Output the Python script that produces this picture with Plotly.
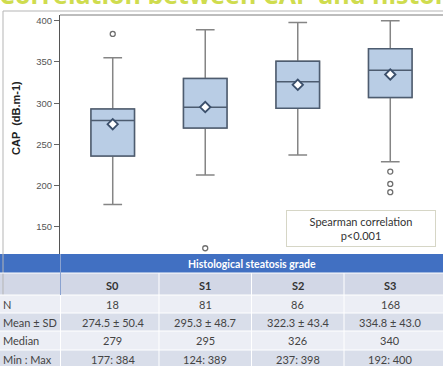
import plotly.graph_objects as go

# ---------------- data ----------------
categories = ["S0", "S1", "S2", "S3"]
q1 = [236, 270, 294, 307]
medians = [279, 295, 326, 340]
q3 = [293, 330, 351, 366]
lower_whisker = [177, 213, 237, 229]
upper_whisker = [355, 389, 398, 400]
means = [274.5, 295.3, 322.3, 334.8]
outlier_x = ["S0", "S1", "S3", "S3", "S3"]
outlier_y = [384, 124, 217, 202, 192]

y_ticks = [150, 200, 250, 300, 350, 400]

row_labels = ["N", "Mean ± SD", "Median", "Min : Max"]
n_values = ["18", "81", "86", "168"]
mean_sd = ["274.5 ± 50.4", "295.3 ± 48.7", "322.3 ± 43.4", "334.8 ± 43.0"]
median_values = ["279", "295", "326", "340"]
min_max = ["177: 384", "124: 389", "237: 398", "192: 400"]
table_rows = [n_values, mean_sd, median_values, min_max]

title_text = "Correlation between CAP and histological steatosis grade"
table_title = "Histological steatosis grade"
note_text = "Spearman correlation<br>p<0.001"

# ---------------- layout helpers ----------------
W, H = 443, 366
def py(px):
    return (H - px) / H
def pxx(px):
    return px / W

FONT = "Lato"
fig = go.Figure()

# whiskers (grey) - full box
fig.add_trace(go.Box(
    x=categories, q1=q1, median=medians, q3=q3,
    lowerfence=lower_whisker, upperfence=upper_whisker,
    fillcolor="#b9cde5", line=dict(color="#858585", width=1.5),
    width=0.47, whiskerwidth=0.43, boxpoints=False, showlegend=False,
    hoverinfo="skip",
))
# box body (dark outline)
fig.add_trace(go.Box(
    x=categories, q1=q1, median=medians, q3=q3,
    lowerfence=q1, upperfence=q3,
    fillcolor="#b9cde5", line=dict(color="#4d5c70", width=1.5),
    width=0.47, whiskerwidth=0.0, boxpoints=False, showlegend=False,
    hoverinfo="skip",
))
# outliers
fig.add_trace(go.Scatter(
    x=outlier_x, y=outlier_y, mode="markers", showlegend=False,
    marker=dict(symbol="circle-open", size=5, color="#6f6f6f", line=dict(width=1.3)),
))
# means
fig.add_trace(go.Scatter(
    x=categories, y=means, mode="markers", showlegend=False,
    marker=dict(symbol="diamond", size=8, color="white",
                line=dict(color="#3b4f6b", width=1.8)),
))

shapes = []
annotations = []

# outer frame lines
shapes.append(dict(type="line", xref="paper", yref="paper", x0=pxx(3), x1=1.0,
                   y0=py(11), y1=py(11), line=dict(color="#b5b5b5", width=1)))
shapes.append(dict(type="line", xref="paper", yref="paper", x0=pxx(3), x1=pxx(3),
                   y0=py(11), y1=py(295), line=dict(color="#b5b5b5", width=1)))

# table backgrounds
row_bounds = [(254, 273), (273, 295), (295, 313), (313, 331), (331, 350), (350, 368)]
row_fills = ["#4170c2", "#d2d7e6", "#eceef5", "#d9deea", "#eceef5", "#d9deea"]
for (a, b), c in zip(row_bounds, row_fills):
    shapes.append(dict(type="rect", xref="paper", yref="paper", x0=0, x1=1,
                       y0=py(b), y1=py(a), fillcolor=c, line=dict(width=0), layer="below"))
# white separators between rows
for a, b in row_bounds[1:]:
    shapes.append(dict(type="line", xref="paper", yref="paper", x0=0, x1=1,
                       y0=py(a), y1=py(a), line=dict(color="#ffffff", width=1)))
# column separators
shapes.append(dict(type="line", xref="paper", yref="paper", x0=pxx(60.5), x1=pxx(60.5),
                   y0=py(295), y1=py(254), line=dict(color="#8aa2d0", width=1)))
for xv in [0.5, 1.5, 2.5]:
    shapes.append(dict(type="line", xref="x", yref="paper", x0=xv, x1=xv,
                       y0=py(368), y1=py(273), line=dict(color="#ffffff", width=1)))
shapes.append(dict(type="line", xref="paper", yref="paper", x0=pxx(60.5), x1=pxx(60.5),
                   y0=py(368), y1=py(295), line=dict(color="#ffffff", width=1)))

# table header
annotations.append(dict(text="<b>" + table_title + "</b>", xref="paper", yref="paper",
                        x=(pxx(60) + 1) / 2, y=py(263.5), xanchor="center", yanchor="middle",
                        showarrow=False, font=dict(family=FONT, size=10.5, color="white")))
for c in categories:
    annotations.append(dict(text="<b>" + c + "</b>", xref="x", yref="paper", x=c, y=py(285),
                            xanchor="center", yanchor="middle", showarrow=False,
                            font=dict(family=FONT, size=11, color="#333333")))
row_y = [304, 322, 340.5, 359]
for lab, vals, yy in zip(row_labels, table_rows, row_y):
    annotations.append(dict(text=lab, xref="paper", yref="paper", x=pxx(1), y=py(yy),
                            xanchor="left", yanchor="middle", showarrow=False,
                            font=dict(family=FONT, size=11, color="#444444")))
    for c, v in zip(categories, vals):
        annotations.append(dict(text=v, xref="x", yref="paper", x=c, y=py(yy),
                                xanchor="center", yanchor="middle", showarrow=False,
                                font=dict(family=FONT, size=11, color="#444444")))

# axis title
annotations.append(dict(text="<b>CAP  (dB.m-1)</b>", xref="paper", yref="paper",
                        x=pxx(16), y=py(118), textangle=-90, xanchor="center",
                        yanchor="middle", showarrow=False,
                        font=dict(family="Arial", size=11, color="#222222")))

# correlation note
annotations.append(dict(text=note_text, xref="paper", yref="paper",
                        x=pxx(360.5), y=py(228.5), xanchor="center", yanchor="middle",
                        showarrow=False, align="center",
                        bordercolor="#d6d6c6", borderwidth=1, borderpad=4,
                        bgcolor="white", width=140,
                        font=dict(family=FONT, size=11, color="#333333")))

# clipped slide title (only its lower edge is visible, as in the source image)
annotations.append(dict(text="<b>" + title_text + "</b>", xref="paper", yref="paper",
                        x=pxx(-3), y=py(13), xanchor="left", yanchor="bottom",
                        showarrow=False,
                        font=dict(family="Open Sans", size=25, color="#cfdc4e")))

fig.update_layout(
    width=W, height=H,
    margin=dict(l=0, r=0, t=0, b=0),
    paper_bgcolor="white", plot_bgcolor="white",
    boxmode="overlay",
    shapes=shapes, annotations=annotations,
    xaxis=dict(domain=[pxx(60), 1], range=[-0.57, 3.57], showticklabels=False,
               ticks="", showgrid=False, zeroline=False, showline=False,
               type="category", categoryorder="array", categoryarray=categories),
    yaxis=dict(domain=[py(254), py(15)], range=[117, 407], tickvals=y_ticks,
               ticks="outside", ticklen=5, tickcolor="#666666", tickwidth=1,
               showline=True, linecolor="#555555", linewidth=1.2,
               showgrid=False, zeroline=False,
               tickfont=dict(family="Arial", size=9.5, color="#555555")),
)
# top border of plot area
fig.add_shape(type="line", xref="paper", yref="paper", x0=pxx(60), x1=1,
              y0=py(15), y1=py(15), line=dict(color="#7a7a7a", width=1))

fig.write_html("out.html", config={"displayModeBar": False},
               post_script="document.body.style.margin='0';")
